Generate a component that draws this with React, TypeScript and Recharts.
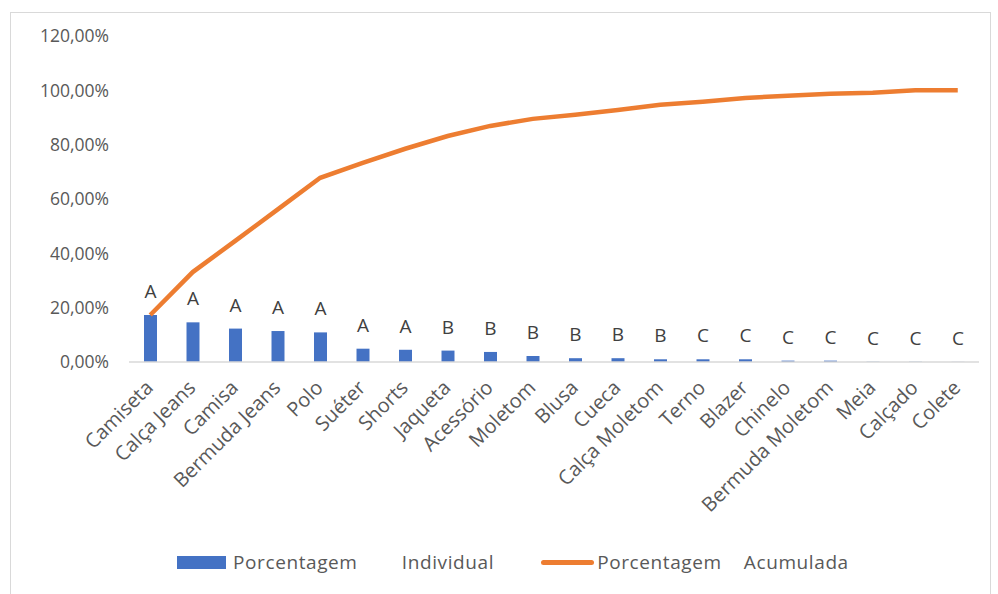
import React from "react";
import {
  ComposedChart,
  Bar,
  Line,
  XAxis,
  YAxis,
  Legend,
  LabelList,
} from "recharts";

const categorias = [
  "Camiseta",
  "Calça Jeans",
  "Camisa",
  "Bermuda Jeans",
  "Polo",
  "Suéter",
  "Shorts",
  "Jaqueta",
  "Acessório",
  "Moletom",
  "Blusa",
  "Cueca",
  "Calça Moletom",
  "Terno",
  "Blazer",
  "Chinelo",
  "Bermuda Moletom",
  "Meia",
  "Calçado",
  "Colete",
];

// porcentagem individual (%)
const individual = [
  17.3, 14.6, 12.3, 11.4, 10.9, 4.9, 4.5, 4.2, 3.7, 2.2, 1.4, 1.4, 1.0, 1.0,
  1.0, 0.5, 0.5, 0.1, 0.1, 0.05,
];

// porcentagem acumulada (%)
const acumulada = [
  17.3, 33.1, 44.6, 56.2, 67.8, 73.3, 78.5, 83.2, 86.9, 89.5, 91.0, 92.8, 94.7,
  95.8, 97.2, 98.0, 98.7, 99.1, 100, 100,
];

const classes = [
  "A", "A", "A", "A", "A", "A", "A",
  "B", "B", "B", "B", "B", "B",
  "C", "C", "C", "C", "C", "C", "C",
];

const yTicks = [0, 20, 40, 60, 80, 100, 120];

const data = categorias.map((nome, i) => ({
  nome,
  individual: individual[i],
  acumulada: acumulada[i],
  classe: classes[i],
}));

const FONT = "'Open Sans', sans-serif";
const AZUL = "#4472C4";
const LARANJA = "#ED7D31";
const TEXTO = "#595959";

function formatPct(v: number): string {
  return v.toFixed(2).replace(".", ",") + "%";
}

function XTick(props: any) {
  const { x, y, payload } = props;
  return (
    <text
      transform={`translate(${x + 4},${y + 19}) rotate(-45)`}
      textAnchor="end"
      fill={TEXTO}
      fontSize={20}
      fontFamily={FONT}
    >
      {payload.value}
    </text>
  );
}

function ClasseLabel(props: any) {
  const { x, y, width, value } = props;
  return (
    <text
      x={x + width / 2}
      y={y - 17}
      textAnchor="middle"
      fill="#404040"
      fontSize={19}
      fontFamily={FONT}
    >
      {value}
    </text>
  );
}

function Legenda(props: any) {
  const { payload } = props;
  return (
    <div
      style={{
        display: "flex",
        alignItems: "center",
        paddingLeft: 177,
        fontFamily: FONT,
        fontSize: 19,
        color: TEXTO,
        letterSpacing: 0.6,
      }}
    >
      {(payload || []).map((item: any) => (
        <span
          key={item.value}
          style={{ display: "flex", alignItems: "center", marginRight: 47 }}
        >
          {item.type === "line" ? (
            <span
              style={{
                display: "inline-block",
                width: 53,
                height: 5,
                borderRadius: 3,
                background: item.color,
                marginRight: 3,
              }}
            />
          ) : (
            <span
              style={{
                display: "inline-block",
                width: 49,
                height: 13,
                background: item.color,
                marginRight: 7,
              }}
            />
          )}
          <span style={{ whiteSpace: "pre" }}>{item.value}</span>
        </span>
      ))}
    </div>
  );
}

export default function App() {
  return (
    <div
      style={{
        position: "absolute",
        left: 0,
        top: 0,
        width: 998,
        height: 594,
        background: "#fff",
        overflow: "hidden",
      }}
    >
      <div
        style={{
          position: "absolute",
          left: 10,
          top: 12,
          width: 979,
          height: 620,
          border: "1px solid #d9d9d9",
        }}
      />
      <div style={{ position: "absolute", left: 0, top: 0 }}>
        <ComposedChart
          width={998}
          height={594}
          data={data}
          margin={{ top: 36, right: 19, left: 8, bottom: 56 }}
          barCategoryGap={0}
        >
          <XAxis
            dataKey="nome"
            interval={0}
            tick={<XTick />}
            tickLine={false}
            axisLine={{ stroke: "#d9d9d9", strokeWidth: 1.5 }}
            height={150}
          />
          <YAxis
            domain={[0, 120]}
            ticks={yTicks}
            tickFormatter={formatPct}
            axisLine={false}
            tickLine={false}
            width={121}
            tickMargin={14}
            tick={{ fill: TEXTO, fontSize: 17.5, fontFamily: FONT }}
          />
          <Legend
            verticalAlign="bottom"
            wrapperStyle={{ top: 549, left: 0, width: 998 }}
            content={<Legenda />}
          />
          <Bar
            dataKey="individual"
            name={"Porcentagem        Individual"}
            fill={AZUL}
            barSize={13}
            legendType="rect"
            isAnimationActive={false}
          >
            <LabelList dataKey="classe" content={<ClasseLabel />} />
          </Bar>
          <Line
            type="linear"
            dataKey="acumulada"
            name={"Porcentagem    Acumulada"}
            stroke={LARANJA}
            strokeWidth={4.5}
            dot={false}
            legendType="line"
            isAnimationActive={false}
          />
        </ComposedChart>
      </div>
    </div>
  );
}
